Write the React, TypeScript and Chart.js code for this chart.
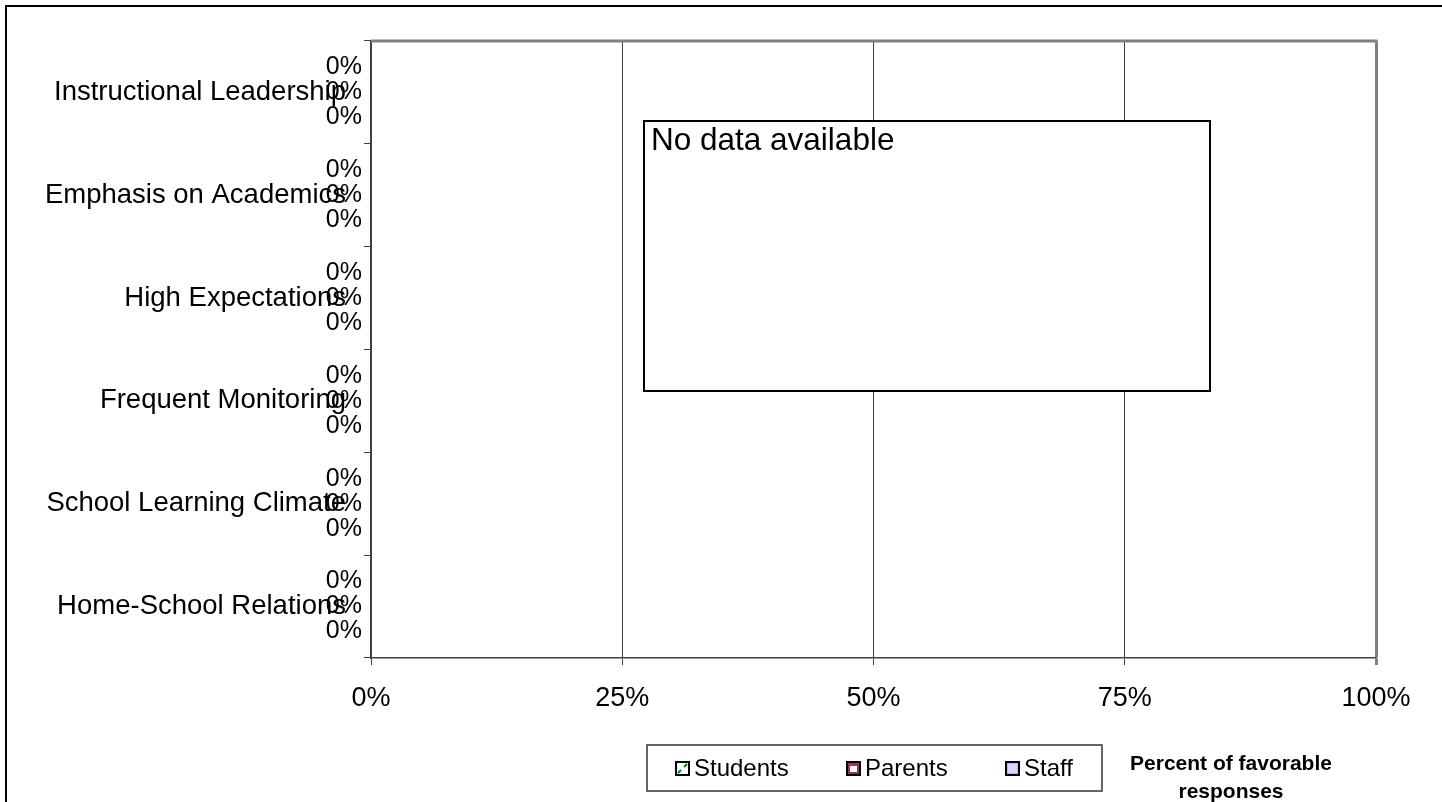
import React, { useEffect, useRef } from "react";
import { Chart, registerables } from "chart.js";

Chart.register(...registerables);

const categories = [
  "Instructional Leadership",
  "Emphasis on Academics",
  "High Expectations",
  "Frequent Monitoring",
  "School Learning Climate",
  "Home-School Relations",
];
const studentsValues = [0, 0, 0, 0, 0, 0];
const parentsValues = [0, 0, 0, 0, 0, 0];
const staffValues = [0, 0, 0, 0, 0, 0];
const seriesNames = ["Students", "Parents", "Staff"];
const xTickValues = [0, 25, 50, 75, 100];
const noDataText = "No data available";
const axisTitleLines = ["Percent of favorable", "responses"];

const FONT = "'Liberation Sans', Arial, sans-serif";

function drawSwatch(ctx: CanvasRenderingContext2D, kind: number, x: number, y: number) {
  const s = 13;
  ctx.save();
  if (kind === 0) {
    ctx.fillStyle = "#ffffff";
    ctx.fillRect(x, y, s, s);
    ctx.strokeStyle = "#008000";
    ctx.lineWidth = 2;
    ctx.beginPath();
    ctx.moveTo(x + 2, y + s - 2);
    ctx.lineTo(x + 5, y + s - 5);
    ctx.moveTo(x + 8, y + 5);
    ctx.lineTo(x + s - 2, y + 2);
    ctx.stroke();
  } else if (kind === 1) {
    ctx.fillStyle = "#993366";
    ctx.fillRect(x, y, s, s);
    ctx.fillStyle = "#ffffff";
    ctx.fillRect(x + 3, y + 4, s - 6, s - 7);
  } else {
    ctx.fillStyle = "#b8b8ff";
    ctx.fillRect(x, y, s, s);
    ctx.fillStyle = "#d8d8ff";
    ctx.fillRect(x + 2, y + 2, s - 4, s - 4);
  }
  ctx.strokeStyle = "#000000";
  ctx.lineWidth = 2;
  ctx.strokeRect(x, y, s, s);
  ctx.restore();
}

const decorPlugin = {
  id: "decor",
  beforeDraw(chart: any) {
    const ctx = chart.ctx as CanvasRenderingContext2D;
    ctx.save();
    ctx.fillStyle = "#ffffff";
    ctx.fillRect(0, 0, chart.width, chart.height);
    ctx.strokeStyle = "#000000";
    ctx.lineWidth = 2;
    ctx.strokeRect(6, 6, chart.width + 20, chart.height + 20);
    ctx.restore();
  },
  afterDatasetsDraw(chart: any) {
    const ctx = chart.ctx as CanvasRenderingContext2D;
    ctx.save();
    ctx.font = `25px ${FONT}`;
    ctx.fillStyle = "#000000";
    ctx.textAlign = "right";
    ctx.textBaseline = "middle";
    chart.data.datasets.forEach((ds: any, di: number) => {
      const meta = chart.getDatasetMeta(di);
      meta.data.forEach((el: any, i: number) => {
        ctx.fillText(`${ds.data[i]}%`, el.x - 9, el.y);
      });
    });
    ctx.restore();
  },
  afterDraw(chart: any) {
    const ctx = chart.ctx as CanvasRenderingContext2D;
    const a = chart.chartArea;
    ctx.save();
    // plot top border
    ctx.strokeStyle = "#808080";
    ctx.lineWidth = 3;
    ctx.beginPath();
    ctx.moveTo(a.left, a.top);
    ctx.lineTo(a.right + 1.5, a.top);
    ctx.stroke();

    // No data box
    ctx.fillStyle = "#ffffff";
    ctx.fillRect(644, 121, 566, 270);
    ctx.strokeStyle = "#000000";
    ctx.lineWidth = 2;
    ctx.strokeRect(644, 121, 566, 270);
    ctx.fillStyle = "#000000";
    ctx.font = `31.5px ${FONT}`;
    ctx.textAlign = "left";
    ctx.textBaseline = "middle";
    ctx.fillText(noDataText, 651, 141);

    // legend
    ctx.fillStyle = "#ffffff";
    ctx.fillRect(647, 745, 455, 46);
    ctx.strokeStyle = "#333333";
    ctx.lineWidth = 1.5;
    ctx.strokeRect(647, 745, 455, 46);
    const swatchX = [676, 847, 1006];
    ctx.font = `24px ${FONT}`;
    ctx.textAlign = "left";
    ctx.textBaseline = "middle";
    seriesNames.forEach((name, i) => {
      drawSwatch(ctx, i, swatchX[i], 762);
      ctx.fillStyle = "#000000";
      ctx.fillText(name, swatchX[i] + 18, 769);
    });

    // axis title
    ctx.font = `bold 21px ${FONT}`;
    ctx.textAlign = "center";
    ctx.fillStyle = "#000000";
    ctx.fillText(axisTitleLines[0], 1231, 764);
    ctx.fillText(axisTitleLines[1], 1231, 792);
    ctx.restore();
  },
};

export default function App() {
  const ref = useRef<HTMLCanvasElement | null>(null);
  useEffect(() => {
    if (!ref.current) return;
    const chart = new Chart(ref.current, {
      type: "bar",
      data: {
        labels: categories,
        datasets: [
          { label: seriesNames[0], data: studentsValues, backgroundColor: "#008000", borderWidth: 0 },
          { label: seriesNames[1], data: parentsValues, backgroundColor: "#993366", borderWidth: 0 },
          { label: seriesNames[2], data: staffValues, backgroundColor: "#9999ff", borderWidth: 0 },
        ],
      },
      options: {
        indexAxis: "y",
        responsive: false,
        animation: false,
        devicePixelRatio: 1,
        layout: { padding: { top: 41, right: 66, left: 0, bottom: 0 } },
        datasets: { bar: { categoryPercentage: 0.73, barPercentage: 0.9 } },
        plugins: { legend: { display: false }, tooltip: { enabled: false }, title: { display: false } },
        scales: {
          x: {
            type: "linear",
            min: 0,
            max: 100,
            afterBuildTicks: (scale: any) => {
              scale.ticks = xTickValues.map((v) => ({ value: v }));
            },
            afterFit: (scale: any) => {
              scale.height = 144;
            },
            ticks: {
              callback: (v: any) => `${v}%`,
              font: { family: FONT, size: 27 },
              color: "#000000",
              padding: 17,
              maxRotation: 0,
            },
            grid: {
              color: (c: any) => (c.tick && c.tick.value === 100 ? "#808080" : "#404040"),
              lineWidth: (c: any) => (c.tick && c.tick.value === 100 ? 3 : 1),
              tickLength: 7,
              drawTicks: true,
            },
            border: { color: "#404040", width: 1.5 },
          },
          y: {
            type: "category",
            afterFit: (scale: any) => {
              scale.width = 371;
            },
            ticks: {
              font: { family: FONT, size: 27.5 },
              color: "#000000",
              padding: 18,
              autoSkip: false,
            },
            grid: {
              drawOnChartArea: false,
              drawTicks: true,
              tickLength: 7,
              color: "#404040",
              offset: true,
            },
            border: { color: "#404040", width: 1.5 },
          },
        },
      },
      plugins: [decorPlugin],
    } as any);
    return () => chart.destroy();
  }, []);
  return (
    <div style={{ position: "absolute", left: 0, top: 0, width: 1442, height: 802, background: "#fff" }}>
      <canvas ref={ref} width={1442} height={802} style={{ display: "block" }} />
    </div>
  );
}
